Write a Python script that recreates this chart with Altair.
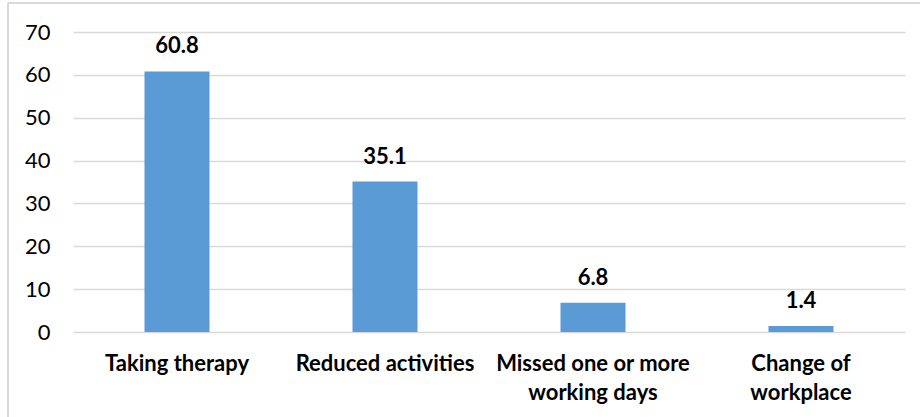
import altair as alt
import pandas as pd

categories = ["Taking therapy", "Reduced activities", "Missed one or more working days", "Change of workplace"]
label_lines = [["Taking therapy"], ["Reduced activities"], ["Missed one or more", "working days"], ["Change of", "workplace"]]
values = [60.8, 35.1, 6.8, 1.4]
y_ticks = [0, 10, 20, 30, 40, 50, 60, 70]

df = pd.DataFrame({"category": categories, "value": values})

FONT = "Lato"

expr = ""
for c, lines in zip(categories, label_lines):
    arr = "[" + ",".join("'" + l + "'" for l in lines) + "]"
    expr += f"datum.label == '{c}' ? {arr} : "
expr += "datum.label"

x = alt.X("category:N", sort=categories, title=None,
          scale=alt.Scale(paddingInner=0, paddingOuter=0),
          axis=alt.Axis(labelAngle=0, labelFont=FONT, labelFontSize=22, labelFontWeight="bold",
                        labelColor="#000000", labelPadding=21, labelLineHeight=29, labelLimit=0,
                        labelBaseline="top", labelExpr=expr, ticks=False, domain=False, grid=False))

y = alt.Y("value:Q", title=None,
          scale=alt.Scale(domain=[0, 70], nice=False),
          axis=alt.Axis(values=y_ticks, labelFont=FONT, labelFontSize=22, labelColor="#000000",
                        labelPadding=23, ticks=False, domain=False, grid=True,
                        gridColor="#d9d9d9", gridWidth=1.5))

base = alt.Chart(df)

bars = base.mark_bar(width=65, color="#5B9BD5").encode(x=x, y=y)

text = base.mark_text(font=FONT, fontSize=22, fontWeight="bold", color="#000000",
                      baseline="alphabetic", dy=-18).encode(
    x=alt.X("category:N", sort=categories), y="value:Q", text=alt.Text("value:Q", format=".1f"))

border_top = alt.Chart(pd.DataFrame({"a": [0]})).mark_rule(color="#d9d9d9", strokeWidth=2).encode(
    x=alt.value(-65), x2=alt.value(850), y=alt.value(-29))
border_left = alt.Chart(pd.DataFrame({"a": [0]})).mark_rule(color="#d9d9d9", strokeWidth=2).encode(
    x=alt.value(-65), y=alt.value(-29), y2=alt.value(390))

chart = alt.layer(border_top, border_left, bars, text).properties(
    width=832, height=300,
    padding={"left": 73, "top": 32, "right": 15, "bottom": 85},
    autosize=alt.AutoSizeParams(type="none"),
    background="white",
).configure_view(stroke=None)

chart.save("out.html", embed_options={"renderer": "svg", "actions": False})
